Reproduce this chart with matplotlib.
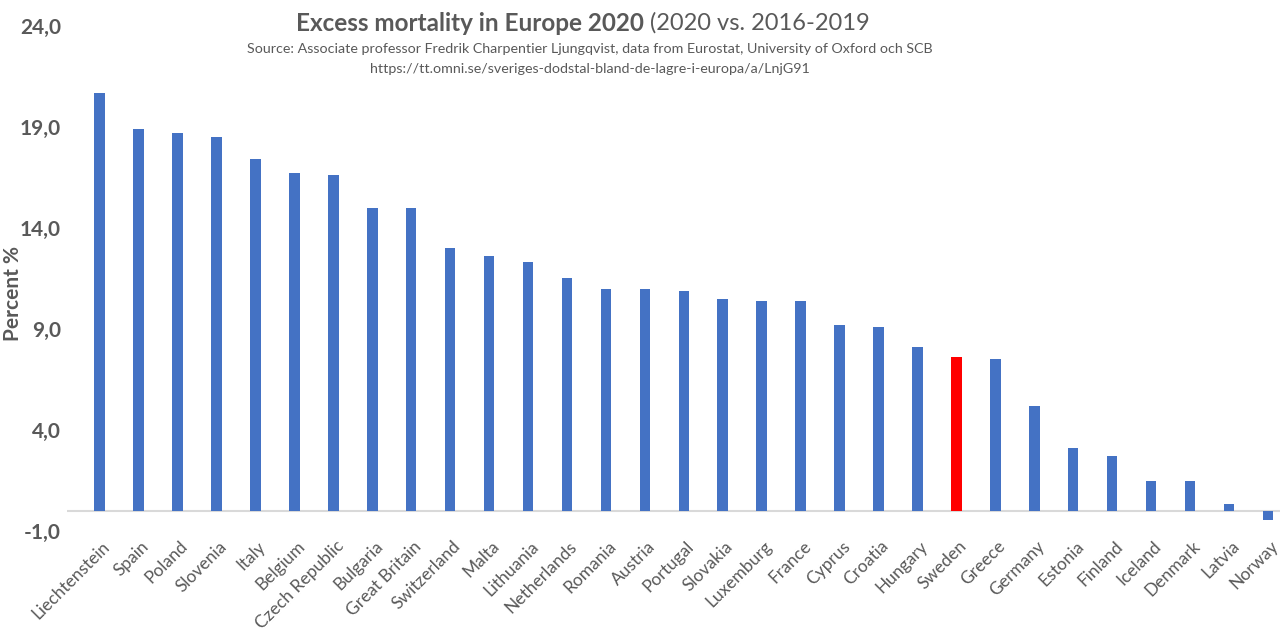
import numpy as np
import matplotlib.pyplot as plt
import matplotlib.transforms as mtransforms
from matplotlib.ticker import FuncFormatter

countries = ["Liechtenstein", "Spain", "Poland", "Slovenia", "Italy", "Belgium",
             "Czech Republic", "Bulgaria", "Great Britain", "Switzerland", "Malta",
             "Lithuania", "Netherlands", "Romania", "Austria", "Portugal", "Slovakia",
             "Luxemburg", "France", "Cyprus", "Croatia", "Hungary", "Sweden", "Greece",
             "Germany", "Estonia", "Finland", "Iceland", "Denmark", "Latvia", "Norway"]
excess = [20.7, 18.9, 18.7, 18.5, 17.4, 16.7, 16.6, 15.0, 15.0, 13.0, 12.6,
          12.3, 11.5, 11.0, 11.0, 10.9, 10.5, 10.4, 10.4, 9.2, 9.1, 8.1, 7.6, 7.5,
          5.2, 3.1, 2.7, 1.5, 1.5, 0.35, -0.45]
yticks = [-1, 4, 9, 14, 19, 24]
highlight = "Sweden"

gray = "#595959"
plt.rcParams['font.family'] = ['Lato', 'DejaVu Sans']

fig = plt.figure(figsize=(12.8, 6.3), dpi=100)
ax = fig.add_axes([0.052, 0.157, 0.948, 0.802])

x = np.arange(len(countries))
colors = ["#FF0000" if c == highlight else "#4472C4" for c in countries]
ax.bar(x, excess, width=0.27, color=colors, zorder=2)
ax.axhline(0, color="#D9D9D9", lw=1.5, zorder=1)

ax.set_xlim(-0.85, 30.31)
ax.set_ylim(-1, 24)
ax.set_yticks(yticks)
ax.yaxis.set_major_formatter(FuncFormatter(lambda v, p: f"{v:.1f}".replace(".", ",")))
for s in ax.spines.values():
    s.set_visible(False)
ax.tick_params(axis='y', length=0, labelsize=15, labelcolor=gray, pad=4)
for t in ax.get_yticklabels():
    t.set_fontweight('bold')

ax.set_xticks(x)
ax.set_xticklabels(countries, rotation=45, ha='right', va='top',
                   rotation_mode='anchor', fontsize=12.5, color=gray)
ax.tick_params(axis='x', length=0, pad=5)
shift = mtransforms.ScaledTranslation(1.5 / 72, 0, fig.dpi_scale_trans)
for t in ax.get_xticklabels():
    t.set_transform(t.get_transform() + shift)

ax.set_ylabel("Percent %", fontsize=15, fontweight='bold', color=gray)
ax.yaxis.set_label_coords(-0.036, 0.47)

fig.text(0.503, 0.963, "Excess mortality in Europe 2020", ha='right', va='center',
         fontsize=17.5, fontweight='bold', color=gray)
fig.text(0.503, 0.963, " (2020 vs. 2016-2019", ha='left', va='center',
         fontsize=17, color=gray)
fig.text(0.461, 0.922, "Source: Associate professor Fredrik Charpentier Ljungqvist, data from Eurostat, University of Oxford och SCB",
         ha='center', va='center', fontsize=10.3, color=gray)
fig.text(0.461, 0.891, "https://tt.omni.se/sveriges-dodstal-bland-de-lagre-i-europa/a/LnjG91",
         ha='center', va='center', fontsize=10.3, color=gray)

fig.savefig("out.png", dpi=100, facecolor='white')
